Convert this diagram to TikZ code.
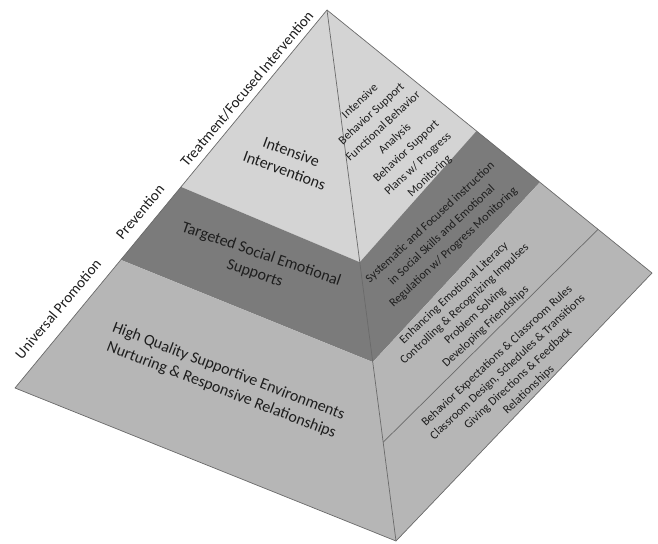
\documentclass[tikz,border=0pt]{standalone}
\usepackage{fontspec}
\setmainfont{Carlito}
\usetikzlibrary{calc}
\definecolor{lightband}{HTML}{D4D4D4}
\definecolor{darkband}{HTML}{7B7B7B}
\definecolor{baseband}{HTML}{B6B6B6}
\definecolor{edgegray}{HTML}{6A6A6A}
\definecolor{inkgray}{HTML}{1E1E1E}

\begin{document}
\begin{tikzpicture}[x=1pt, y=-1pt] %Pyramide
  \tikzstyle{band} = [draw=edgegray, line width=0.7pt, line join=round]
  \tikzstyle{sidelabel} = [rotate=50, text=inkgray, font=\fontsize{15}{18}\selectfont]
  \tikzstyle{leftface} = [align=center, text=inkgray, font=\fontsize{16}{20}\selectfont]
  \tikzstyle{rightface} = [align=center, rotate=43, text=inkgray, font=\fontsize{12}{17}\selectfont]
  \useasboundingbox (0,0) rectangle (658,543);
  % corners of the pyramid
  \coordinate (A) at (327,10);
  \coordinate (L) at (15,388);
  \coordinate (F) at (396,541);
  \coordinate (R) at (652,273);
  % band limits on the three edges
  \foreach \n/\tl/\tm/\tr in {1/0.468/0.475/0.46, 2/0.661/0.663/0.655}
  {
    \coordinate (L\n) at ($(A)!\tl!(L)$);
    \coordinate (M\n) at ($(A)!\tm!(F)$);
    \coordinate (R\n) at ($(A)!\tr!(R)$);
  }
  \coordinate (M3) at ($(A)!0.814!(F)$);
  \coordinate (R3) at ($(A)!0.834!(R)$);
  \fill[lightband] (A) -- (L1) -- (M1) -- (R1) -- cycle;
  \fill[darkband] (L1) -- (L2) -- (M2) -- (R2) -- (R1) -- (M1) -- cycle;
  \fill[baseband] (L2) -- (L) -- (F) -- (R) -- (R2) -- (M2) -- cycle;
  \draw[band] (A) -- (L) -- (F) -- (R) -- cycle;
  \draw[band] (A) -- (F);
  \draw[band] (M3) -- (R3);
  % levels
  \node[sidelabel] (treatment) at (247,89) {Treatment/Focused Intervention};
  \node[sidelabel] (prevention) at (140,212) {Prevention};
  \node[sidelabel] (universal) at (58,309) {Universal Promotion};
  % front face
  \node[leftface, rotate=-20] (intensive) at (288,161) {Intensive\\Interventions};
  \node[leftface, rotate=-19] (targeted) at (258,264) {Targeted Social Emotional\\Supports};
  \node[leftface, rotate=-21] (quality) at (225,381) {High Quality Supportive Environments\\Nurturing \& Responsive Relationships};
  % side face
  \node[rightface] (plans) at (395,139) {Intensive\\Behavior Support\\Functional Behavior\\Analysis\\Behavior Support\\Plans w/ Progress\\Monitoring};
  \node[rightface] (instruction) at (442,235) {Systematic and Focused instruction\\in Social Skills and Emotional\\Regulation w/ Progress Monitoring};
  \node[rightface, font=\fontsize{12}{15.5}\selectfont] (literacy) at (470,310) {Enhancing Emotional Literacy\\Controlling \& Recognizing Impulses\\Problem Solving\\Developing Friendships};
  \node[rightface, font=\fontsize{12}{15.5}\selectfont] (expectations) at (513,373) {Behavior Expectations \& Classroom Rules\\Classroom Design, Schedules \& Transitions\\Giving Directions \& Feedback\\Relationships};
\end{tikzpicture}
\end{document}
